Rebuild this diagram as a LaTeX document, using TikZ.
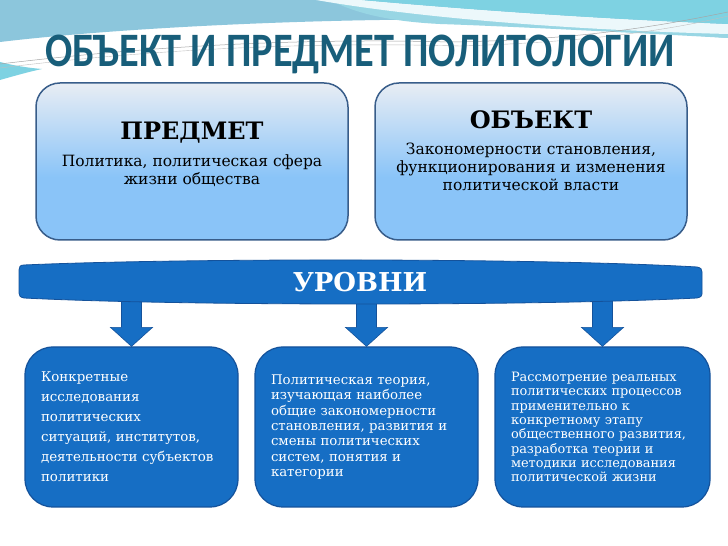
\documentclass[tikz,border=0pt]{standalone}
\usepackage{graphicx}
\usepackage{fontspec}
\setmainfont{DejaVu Serif}
\newfontfamily\titlefont{Carlito}
\usetikzlibrary{calc}
\definecolor{titlec}{RGB}{24,94,122}
\definecolor{boxborder}{RGB}{56,93,138}
\definecolor{gradtop}{RGB}{232,237,244}
\definecolor{gradbot}{RGB}{138,196,248}
\definecolor{darkfill}{RGB}{22,110,196}
\definecolor{darkborder}{RGB}{20,82,155}
\definecolor{waveblue}{RGB}{140,198,220}
\definecolor{wavecyan}{RGB}{126,210,226}
\definecolor{wavelight}{RGB}{152,214,228}
\pgfdeclareverticalshading{boxshade}{100bp}{color(0bp)=(gradbot); color(25bp)=(gradbot); color(45bp)=(gradbot); color(75bp)=(gradtop); color(100bp)=(gradtop)}
\newcommand\levelarrow[1]{%
  \filldraw[arrowfill] ($(#1.north |- bandbot)+(-10,0)$) -- ($(#1.north)+(-10,19)$) -- ($(#1.north)+(-21,19)$) -- (#1.north) -- ($(#1.north)+(21,19)$) -- ($(#1.north)+(10,19)$) -- ($(#1.north |- bandbot)+(10,0)$) -- cycle;}
\begin{document}
\begin{tikzpicture}[x=1pt,y=1pt,
  topbox/.style={draw=boxborder, line width=1.5pt, rounded corners=24pt, minimum width=312pt, minimum height=157pt, shading=boxshade, inner sep=0},
  toptext/.style={align=center, anchor=north, inner sep=0, text=black},
  lowbox/.style={draw=darkborder, line width=1.2pt, fill=darkfill, rounded corners=28pt, minimum height=160pt, inner xsep=16pt, inner ysep=0pt, align=left, text=white},
  arrowfill/.style={fill=darkfill, draw=darkborder, line width=0.6pt},
  band/.style={fill=darkfill, draw=darkborder, line width=0.8pt}]
\useasboundingbox (0,0) rectangle (728,546);
\fill[white] (0,0) rectangle (728,546);
% top waves
\fill[waveblue] (0,546) -- (728,546) -- (728,508) .. controls (620,516) and (500,528) .. (380,526) .. controls (250,524) and (100,516) .. (0,504) -- cycle;
\fill[wavelight] (330,546) .. controls (430,532) and (580,522) .. (728,518) -- (728,508) .. controls (620,514) and (500,520) .. (440,522) .. controls (400,524) and (360,530) .. (330,546) -- cycle;
\fill[white!85!wavecyan] (316,546) .. controls (420,528) and (570,516) .. (728,512) -- (728,522) .. controls (580,528) and (450,538) .. (362,546) -- cycle;
\fill[wavecyan] (362,546) .. controls (450,538) and (580,528) .. (728,522) -- (728,546) -- cycle;
\fill[wavecyan] (0,484) .. controls (15,480) and (30,478) .. (42,477) .. controls (28,474) and (14,470) .. (0,466) -- cycle;
\draw[gray!70, line width=0.5pt] (0,482) .. controls (150,500) and (300,508) .. (450,504) .. controls (580,506) and (660,520) .. (728,534);
\draw[gray!50, line width=0.4pt] (0,478) .. controls (160,498) and (320,504) .. (460,500) .. controls (590,504) and (670,516) .. (728,530);
% title
\node[font=\titlefont\bfseries\fontsize{48}{48}\selectfont, text=titlec, anchor=base, inner sep=0] (title) at (360,479) {\scalebox{0.84}[1]{ОБЪЕКТ И ПРЕДМЕТ ПОЛИТОЛОГИИ}};
% top boxes
\node[topbox] (pred) at (192,384.5) {};
\node[topbox] (obj) at (531,384.5) {};
\node[toptext, font=\fontsize{15.5}{18}\selectfont] (predtext) at (192,424) {{\fontsize{24}{24}\selectfont\bfseries ПРЕДМЕТ}\\[9pt]Политика, политическая сфера\\жизни общества};
\node[toptext, font=\fontsize{15.5}{17.8}\selectfont] (objtext) at (531,436) {{\fontsize{24}{24}\selectfont\bfseries ОБЪЕКТ}\\[9pt]Закономерности становления,\\функционирования и изменения\\политической власти};
% lower boxes
\node[lowbox, minimum width=213pt, text width=181pt, font=\fontsize{13.4}{20}\selectfont] (b1) at (131.5,119) {Конкретные\\исследования\\политических\\ситуаций, институтов,\\деятельности субъектов\\политики};
\node[lowbox, minimum width=223pt, text width=191pt, font=\fontsize{13.3}{15.3}\selectfont] (b2) at (366.5,119) {Политическая теория,\\изучающая наиболее\\общие закономерности\\становления, развития и\\смены политических\\систем, понятия и\\категории};
\node[lowbox, minimum width=215pt, text width=183pt, font=\fontsize{12.9}{14.3}\selectfont] (b3) at (602.5,119) {Рассмотрение реальных\\политических процессов\\применительно к\\конкретному этапу\\общественного развития,\\разработка теории и\\методики исследования\\политической жизни};
% arrows
\coordinate (bandbot) at (0,252);
\levelarrow{b1}
\levelarrow{b2}
\levelarrow{b3}
% band
\path[band] (24,281) .. controls (180,288) and (540,288) .. (697,279) .. controls (701,278) and (702,277) .. (702,274) -- (702,252) .. controls (702,250) and (701,249) .. (697,248) .. controls (540,240) and (180,240) .. (24,248) .. controls (20,249) and (19,250) .. (19,253) -- (19,276) .. controls (19,279) and (20,281) .. (24,281) -- cycle;
\node[font=\fontsize{26}{26}\selectfont\bfseries, text=white, anchor=base, inner sep=0] (levels) at (360,254) {УРОВНИ};
\end{tikzpicture}
\end{document}
